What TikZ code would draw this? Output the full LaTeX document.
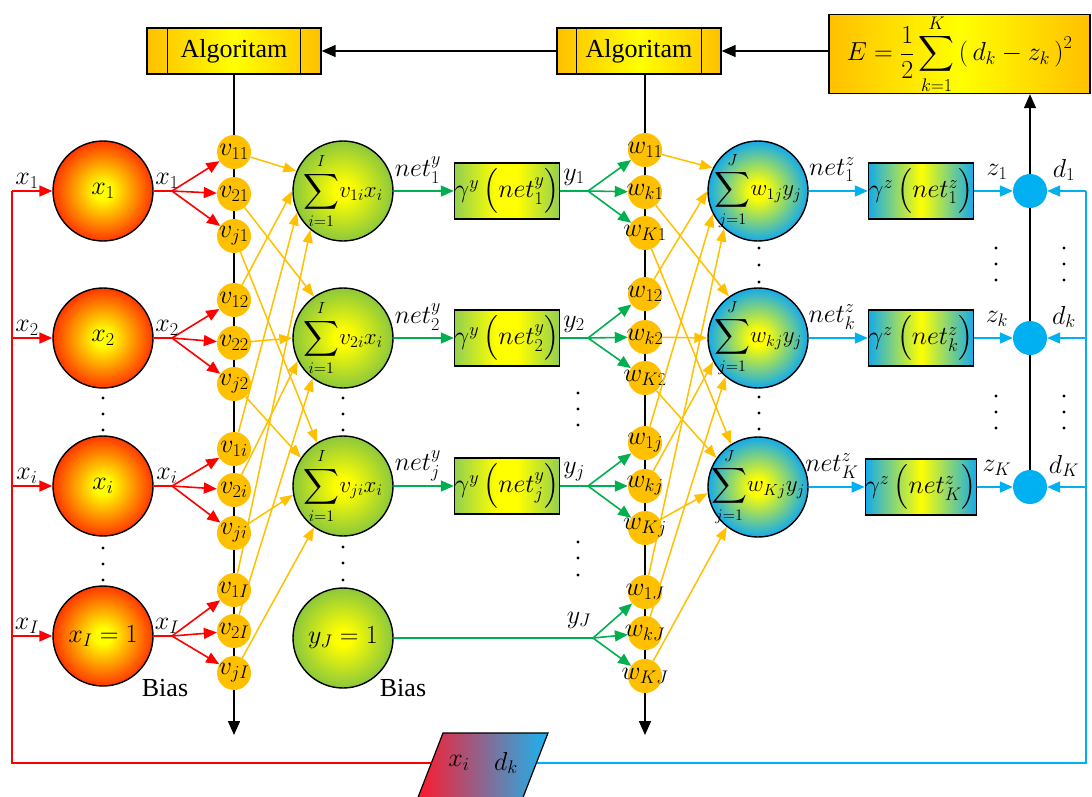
\RequirePackage{fix-cm}
\documentclass[tikz,border=0pt]{standalone}
\usepackage{amsmath}
\usepackage{exscale}
\usepackage{fontspec}
\setmainfont{Liberation Serif}
\usetikzlibrary{arrows.meta,backgrounds,calc}

\definecolor{cRed}{RGB}{255,0,0}
\definecolor{cYel}{RGB}{255,192,0}
\definecolor{cGrn}{RGB}{0,176,80}
\definecolor{cBlu}{RGB}{0,176,240}
\definecolor{cOrg}{RGB}{255,192,0}
\definecolor{cYY}{RGB}{255,255,0}
\definecolor{cInEdge}{RGB}{255,55,0}
\definecolor{cSG}{RGB}{140,200,60}
\definecolor{cSB}{RGB}{20,170,235}
\definecolor{cBoxG}{RGB}{146,208,80}
\definecolor{cPR}{RGB}{255,25,45}
\definecolor{cPB}{RGB}{25,180,240}

\pgfdeclarehorizontalshading{shG}{100bp}{color(0bp)=(cBoxG); color(25bp)=(cBoxG); color(45bp)=(cYY); color(55bp)=(cYY); color(75bp)=(cBoxG); color(100bp)=(cBoxG)}
\pgfdeclarehorizontalshading{shB}{100bp}{color(0bp)=(cSB); color(25bp)=(cSB); color(50bp)=(cYY); color(75bp)=(cSB); color(100bp)=(cSB)}
\pgfdeclarehorizontalshading{shO}{100bp}{color(0bp)=(cOrg); color(25bp)=(cOrg); color(50bp)=(cYY); color(75bp)=(cOrg); color(100bp)=(cOrg)}
\pgfdeclareradialshading{shIn}{\pgfpoint{0bp}{0bp}}{color(0bp)=(cYY); color(4bp)=(cYY); color(25bp)=(cInEdge); color(50bp)=(cInEdge)}
\pgfdeclareradialshading{shSG}{\pgfpoint{0bp}{0bp}}{color(0bp)=(cYY); color(4bp)=(cYY); color(25bp)=(cSG); color(50bp)=(cSG)}
\pgfdeclareradialshading{shSB}{\pgfpoint{0bp}{0bp}}{color(0bp)=(cYY); color(4bp)=(cYY); color(25bp)=(cSB); color(50bp)=(cSB)}

\newcommand{\gam}[2]{$\gamma^{#1}\left(\vphantom{j^y_j}net_{#2}^{#1}\right)$}

\tikzset{
  inp/.style={circle, draw, line width=1.4pt, minimum size=100pt, inner sep=-12pt, shade, shading=shIn},
  wn/.style={circle, fill=cYel, minimum size=34pt, inner sep=-10pt},
  sg/.style={circle, draw, line width=1.4pt, minimum size=100pt, inner sep=-30pt, shade, shading=shSG, font=\fontsize{23}{27}\selectfont},
  sb/.style={circle, draw, line width=1.4pt, minimum size=100pt, inner sep=-30pt, shade, shading=shSB, font=\fontsize{23}{27}\selectfont},
  bgx/.style={rectangle, draw, line width=1.4pt, minimum width=105pt, minimum height=56pt, inner sep=0pt, shade, shading=shG},
  bbx/.style={rectangle, draw, line width=1.4pt, minimum width=105pt, minimum height=56pt, inner sep=0pt, shade, shading=shB},
  algbox/.style={rectangle, draw, line width=1.4pt, minimum height=46pt, inner sep=0pt, shade, shading=shO},
  dotb/.style={circle, fill=cBlu, minimum size=34pt, inner sep=0pt},
  lbl/.style={inner sep=0pt},
  rline/.style={draw=cRed, line width=1.6pt},
  rarr/.style={rline, -{Triangle[length=13pt,width=11pt]}},
  yarr/.style={draw=cYel, line width=1.5pt, -{Triangle[length=13pt,width=10pt]}},
  gline/.style={draw=cGrn, line width=1.6pt},
  garr/.style={gline, -{Triangle[length=13pt,width=11pt]}},
  bline/.style={draw=cBlu, line width=1.6pt},
  barr/.style={bline, -{Triangle[length=13pt,width=11pt]}},
  kline/.style={draw=black, line width=1.5pt},
  karr/.style={kline, -{Triangle[length=14pt,width=12pt]}},
}

\begin{document}
\begin{tikzpicture}[x=1pt,y=-1pt,font=\fontsize{26}{30}\selectfont]
\useasboundingbox (0,0) rectangle (1092,796);
\clip (0,0) rectangle (1092,796);

% ---- top boxes
\node[algbox, minimum width=174pt] (alg1) at (234,51) {Algoritam};
\node[algbox, minimum width=164pt] (alg2) at (639,51) {Algoritam};
\node[algbox, minimum width=261pt, minimum height=78pt] (eb) at (959.5,54)
  {$\displaystyle E=\frac{1}{2}\sum_{k=1}^{K}\left(\,d_k-z_k\,\right)^2$};
\draw[kline] ([xshift=21pt]alg1.north west) -- ([xshift=21pt]alg1.south west);
\draw[kline] ([xshift=-21pt]alg1.north east) -- ([xshift=-21pt]alg1.south east);
\draw[kline] ([xshift=20pt]alg2.north west) -- ([xshift=20pt]alg2.south west);
\draw[kline] ([xshift=-20pt]alg2.north east) -- ([xshift=-20pt]alg2.south east);

% ---- input nodes
\node[inp] (in1) at (103,191) {$x_1$};
\node[inp] (in2) at (103,338) {$x_2$};
\node[inp] (in3) at (103,486) {$x_i$};
\node[inp] (in4) at (103,636) {$x_I=1$};

% ---- v weights
\node[wn] (va1) at (234,152) {$v_{11}$};
\node[wn] (vb1) at (234,194) {$v_{21}$};
\node[wn] (vc1) at (234,236) {$v_{j1}$};
\node[wn] (va2) at (234,300) {$v_{12}$};
\node[wn] (vb2) at (234,343) {$v_{22}$};
\node[wn] (vc2) at (234,384) {$v_{j2}$};
\node[wn] (va3) at (234,449) {$v_{1i}$};
\node[wn] (vb3) at (234,490) {$v_{2i}$};
\node[wn] (vc3) at (234,533) {$v_{ji}$};
\node[wn] (va4) at (234,590) {$v_{1I}$};
\node[wn] (vb4) at (234,631) {$v_{2I}$};
\node[wn] (vc4) at (234,673) {$v_{jI}$};

% ---- hidden sums
\node[sg] (s1) at (343,191) {$\displaystyle\sum_{i=1}^{I}\! v_{1i}x_i$};
\node[sg] (s2) at (343,338) {$\displaystyle\sum_{i=1}^{I}\! v_{2i}x_i$};
\node[sg] (s3) at (343,486) {$\displaystyle\sum_{i=1}^{I}\! v_{ji}x_i$};
\node[sg, font=\fontsize{26}{30}\selectfont] (s4) at (343,638) {$y_J=1$};

% ---- hidden activation boxes
\node[bgx] (gy1) at (507,191) {\gam{y}{1}};
\node[bgx] (gy2) at (507,338) {\gam{y}{2}};
\node[bgx] (gy3) at (507,486) {\gam{y}{j}};

% ---- w weights
\node[wn] (wa1) at (645,150) {$w_{11}$};
\node[wn] (wb1) at (645,192) {$w_{k1}$};
\node[wn] (wc1) at (645,233) {$w_{K1}$};
\node[wn] (wa2) at (645,294) {$w_{12}$};
\node[wn] (wb2) at (645,337) {$w_{k2}$};
\node[wn] (wc2) at (645,378) {$w_{K2}$};
\node[wn] (wa3) at (645,443) {$w_{1j}$};
\node[wn] (wb3) at (645,486) {$w_{kj}$};
\node[wn] (wc3) at (645,528) {$w_{Kj}$};
\node[wn] (wa4) at (645,592) {$w_{1J}$};
\node[wn] (wb4) at (645,633) {$w_{kJ}$};
\node[wn] (wc4) at (645,676) {$w_{KJ}$};

% ---- output sums
\node[sb] (t1) at (758,191) {$\displaystyle\sum_{j=1}^{J}\! w_{1j}y_j$};
\node[sb] (t2) at (758,338) {$\displaystyle\sum_{j=1}^{J}\! w_{kj}y_j$};
\node[sb] (t3) at (758,487) {$\displaystyle\sum_{j=1}^{J}\! w_{Kj}y_j$};

% ---- output activation boxes
\node[bbx] (gz1) at (921,191) {\gam{z}{1}};
\node[bbx] (gz2) at (921,338) {\gam{z}{k}};
\node[bbx] (gz3) at (921,487) {\gam{z}{K}};

% ---- comparison dots
\node[dotb] (c1) at (1030,191) {};
\node[dotb] (c2) at (1030,338) {};
\node[dotb] (c3) at (1030,487) {};

% ---- coordinates
\coordinate (L0) at (12,763);
\coordinate (L1) at (12,191);
\coordinate (L2) at (12,338);
\coordinate (L3) at (12,486);
\coordinate (L4) at (12,636);
\coordinate (f1) at (172,191);
\coordinate (f2) at (172,338);
\coordinate (f3) at (172,486);
\coordinate (f4) at (172,636);
\coordinate (g1) at (588,191);
\coordinate (g2) at (588,338);
\coordinate (g3) at (588,486);
\coordinate (g4) at (593,638);
\coordinate (D0) at (1086,763);
\coordinate (D1) at (1086,191);
\coordinate (D2) at (1086,338);
\coordinate (D3) at (1086,487);
\coordinate (pl) at (431,763);
\coordinate (pr) at (536,763);
\coordinate (vend) at (234,735);
\coordinate (wend) at (645,735);

% ---- black lines behind nodes
\begin{scope}[on background layer]
  \draw[karr] (alg1.south) -- (vend);
  \draw[karr] (wa1 |- alg2.south) -- (wend);
  \draw[karr] (c3.center) -- (c1 |- eb.south);
\end{scope}
\draw[karr] (eb.west |- alg2.east) -- (alg2.east);
\draw[karr] (alg2.west) -- (alg1.east);

% ---- red input lines
\draw[rline] (pl) -- (L0) -- (L1);
\foreach \k in {1,2,3,4}{
  \draw[rarr] (L\k) -- (in\k);
  \draw[rline] (in\k.east) -- (f\k);
  \draw[rarr] (f\k) -- (va\k);
  \draw[rarr] (f\k) -- (vb\k);
  \draw[rarr] (f\k) -- (vc\k);
}

% ---- yellow v connections
\draw[yarr] (va1) -- (s1.157);
\draw[yarr] (va2) -- (s1.180);
\draw[yarr] (va3) -- (s1.205);
\draw[yarr] (va4) -- (s1.230);
\draw[yarr] (vb1) -- (s2.125);
\draw[yarr] (vb2) -- (s2.180);
\draw[yarr] (vb3) -- (s2.207);
\draw[yarr] (vb4) -- (s2.233);
\draw[yarr] (vc1) -- (s3.121);
\draw[yarr] (vc2) -- (s3.146);
\draw[yarr] (vc3) -- (s3.190);
\draw[yarr] (vc4) -- (s3.235);

% ---- green connections
\foreach \k in {1,2,3}{
  \draw[garr] (s\k) -- (gy\k);
  \draw[gline] (gy\k) -- (g\k);
}
\draw[gline] (s4) -- (g4);
\foreach \k in {1,2,3,4}{
  \draw[garr] (g\k) -- (wa\k);
  \draw[garr] (g\k) -- (wb\k);
  \draw[garr] (g\k) -- (wc\k);
}

% ---- yellow w connections
\draw[yarr] (wa1) -- (t1.153);
\draw[yarr] (wa2) -- (t1.180);
\draw[yarr] (wa3) -- (t1.207);
\draw[yarr] (wa4) -- (t1.228);
\draw[yarr] (wb1) -- (t2.125);
\draw[yarr] (wb2) -- (t2.180);
\draw[yarr] (wb3) -- (t2.208);
\draw[yarr] (wb4) -- (t2.230);
\draw[yarr] (wc1) -- (t3.122);
\draw[yarr] (wc2) -- (t3.145);
\draw[yarr] (wc3) -- (t3.187);
\draw[yarr] (wc4) -- (t3.232);

% ---- blue connections
\draw[bline] (D1) -- (D0) -- (pr);
\foreach \k in {1,2,3}{
  \draw[barr] (t\k) -- (gz\k);
  \draw[barr] (gz\k) -- (c\k);
  \draw[barr] (D\k) -- (c\k);
}

% ---- data parallelogram
\shade[draw, line width=1.2pt, left color=cPR, right color=cPB]
  (443,733) -- (548,733) -- (522,800) -- (417,800) -- cycle;
\node[lbl] (pxi) at (459,763) {$x_i$};
\node[lbl] (pdk) at (506,763) {$d_k$};

% ---- labels
\node[lbl] (lx1) at (27,181) {$x_1$};
\node[lbl] (lx2) at (27,328) {$x_2$};
\node[lbl] (lx3) at (27,476) {$x_i$};
\node[lbl] (lx4) at (27,626) {$x_I$};
\node[lbl] (rx1) at (167,181) {$x_1$};
\node[lbl] (rx2) at (167,328) {$x_2$};
\node[lbl] (rx3) at (167,476) {$x_i$};
\node[lbl] (rx4) at (167,626) {$x_I$};
\node[lbl] (ny1) at (418,170) {$net_1^y$};
\node[lbl] (ny2) at (418,317) {$net_2^y$};
\node[lbl] (ny3) at (418,466) {$net_j^y$};
\node[lbl] (ly1) at (574,177) {$y_1$};
\node[lbl] (ly2) at (574,324) {$y_2$};
\node[lbl] (ly3) at (574,472) {$y_j$};
\node[lbl] (ly4) at (579,620) {$y_J$};
\node[lbl] (nz1) at (832,170) {$net_1^z$};
\node[lbl] (nz2) at (832,317) {$net_k^z$};
\node[lbl] (nz3) at (832,466) {$net_K^z$};
\node[lbl] (lz1) at (997,172) {$z_1$};
\node[lbl] (lz2) at (997,319) {$z_k$};
\node[lbl] (lz3) at (997,468) {$z_K$};
\node[lbl] (ld1) at (1064,170) {$d_1$};
\node[lbl] (ld2) at (1064,317) {$d_k$};
\node[lbl] (ld3) at (1064,466) {$d_K$};
\node[lbl] (bias1) at (165,688) {Bias};
\node[lbl] (bias2) at (403,688) {Bias};

% ---- ellipsis dots
\foreach \x/\y in {103/398,103/414,103/430,103/548,103/564,103/580,
                   343/398,343/414,343/430,343/547,343/563,343/580,
                   578/393,578/409,578/425,578/542,578/558,578/575,
                   759/248,759/265,759/282,759/397,759/413,759/429,
                   996/248,996/264,996/280,996/396,996/412,996/428,
                   1064/248,1064/264,1064/280,1064/396,1064/412,1064/428}
  \fill (\x,\y) circle (1.6);
\end{tikzpicture}
\end{document}
